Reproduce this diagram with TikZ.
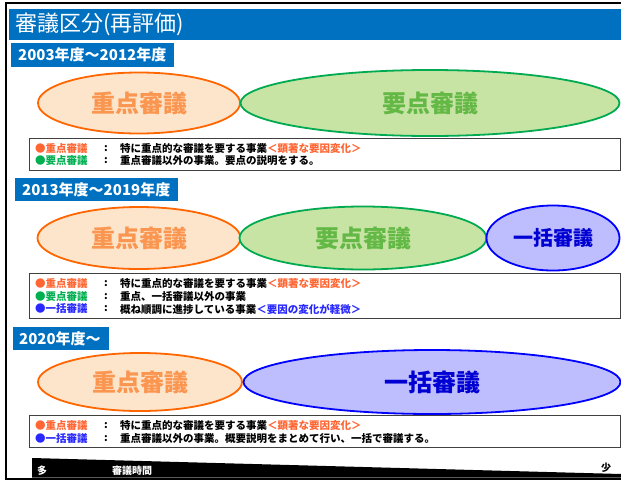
\documentclass[tikz,border=0pt]{standalone}
\usepackage{fontspec}
\newfontfamily\jp{Noto Sans CJK JP}
\usetikzlibrary{shapes.geometric}
\definecolor{hdrblue}{RGB}{0,112,192}
\definecolor{orline}{RGB}{255,102,0}
\definecolor{orfill}{RGB}{253,229,204}
\definecolor{ortxt}{RGB}{250,150,80}
\definecolor{grline}{RGB}{0,170,80}
\definecolor{grfill}{RGB}{200,228,165}
\definecolor{grtxt}{RGB}{100,185,70}
\definecolor{blline}{RGB}{0,0,255}
\definecolor{blfill}{RGB}{190,190,255}
\definecolor{bltxt}{RGB}{0,0,210}
\definecolor{legor}{RGB}{255,102,51}
\definecolor{leggr}{RGB}{0,176,80}
\definecolor{legbl}{RGB}{40,40,255}
\begin{document}
\begin{tikzpicture}[x=1pt,y=-1pt,
  ell/.style={ellipse, line width=1.8pt, inner sep=0pt, font=\jp\bfseries\fontsize{24}{24}\selectfont},
  ellor/.style={ell, draw=orline, fill=orfill, text=ortxt},
  ellgr/.style={ell, draw=grline, fill=grfill, text=grtxt},
  ellbl/.style={ell, draw=blline, fill=blfill, text=bltxt},
  hdrtxt/.style={anchor=west, inner sep=0pt, text=white, font=\jp\bfseries\fontsize{15}{15}\selectfont},
  legbox/.style={draw=black!75, line width=0.9pt, fill=white},
  legtxt/.style={anchor=west, inner sep=0pt, font=\jp\bfseries\fontsize{10.5}{10.5}\selectfont},
  wtxt/.style={anchor=center, inner sep=0pt, font=\jp\bfseries\fontsize{10}{10}\selectfont}
]
\useasboundingbox (0,0) rectangle (621,480);
\fill[white] (0,0) rectangle (621,480);
% outer frame
\draw[line width=1.6pt, black] (6,3) rectangle (640,479);
% title bar
\fill[hdrblue] (9,9) rectangle (640,40);
\node[anchor=west, inner sep=0pt, text=white, font=\jp\fontsize{22}{22}\selectfont] (title) at (15,24.5) {審議区分(再評価)};

% ---------- period 1 ----------
\fill[hdrblue] (11,43) rectangle (174,67);
\node[hdrtxt] (h1) at (18,55) {2003年度～2012年度};
\node[ellor, minimum width=202pt, minimum height=61pt] (a1) at (139,103) {重点審議};
\node[ellgr, minimum width=379pt, minimum height=66pt] (a2) at (430,103) {要点審議};
\draw[legbox] (29,138) rectangle (620,170);
\node[legtxt, text=legor] (l11) at (35,149) {●重点審議};
\node[legtxt] (c11) at (104,149) {:};
\node[legtxt] (d11) at (120,149) {特に重点的な審議を要する事業\textcolor{legor}{＜顕著な要因変化＞}};
\node[legtxt, text=leggr] (l12) at (35,161) {●要点審議};
\node[legtxt] (c12) at (104,161) {:};
\node[legtxt] (d12) at (120,161) {重点審議以外の事業。要点の説明をする。};

% ---------- period 2 ----------
\fill[hdrblue] (15,178) rectangle (178,201);
\node[hdrtxt] (h2) at (22,189.5) {2013年度～2019年度};
\node[ellor, minimum width=203pt, minimum height=62pt] (b1) at (139,238) {重点審議};
\node[ellgr, minimum width=247pt, minimum height=63pt] (b2) at (363,238) {要点審議};
\node[ellbl, minimum width=133pt, minimum height=65pt, font=\jp\bfseries\fontsize{20}{20}\selectfont] (b3) at (553,238) {一括審議};
\draw[legbox] (29,273) rectangle (620,318);
\node[legtxt, text=legor] (l21) at (35,284) {●重点審議};
\node[legtxt] (c21) at (104,284) {:};
\node[legtxt] (d21) at (120,284) {特に重点的な審議を要する事業\textcolor{legor}{＜顕著な要因変化＞}};
\node[legtxt, text=leggr] (l22) at (35,296.5) {●要点審議};
\node[legtxt] (c22) at (104,296.5) {:};
\node[legtxt] (d22) at (120,296.5) {重点、一括審議以外の事業};
\node[legtxt, text=legbl] (l23) at (35,309) {●一括審議};
\node[legtxt] (c23) at (104,309) {:};
\node[legtxt] (d23) at (120,309) {概ね順調に進捗している事業\textcolor{legbl}{＜要因の変化が軽微＞}};

% ---------- period 3 ----------
\fill[hdrblue] (13,327) rectangle (109,350);
\node[hdrtxt] (h3) at (19,338.5) {2020年度～};
\node[ellor, minimum width=204pt, minimum height=58pt] (c1) at (140,382) {重点審議};
\node[ellbl, minimum width=377pt, minimum height=64pt] (c2) at (432,382) {一括審議};
\draw[legbox] (29,415) rectangle (620,447);
\node[legtxt, text=legor] (l31) at (35,426) {●重点審議};
\node[legtxt] (c31) at (104,426) {:};
\node[legtxt] (d31) at (120,426) {特に重点的な審議を要する事業\textcolor{legor}{＜顕著な要因変化＞}};
\node[legtxt, text=legbl] (l32) at (35,438.5) {●一括審議};
\node[legtxt] (c32) at (104,438.5) {:};
\node[legtxt] (d32) at (120,438.5) {重点審議以外の事業。概要説明をまとめて行い、一括で審議する。};

% ---------- bottom wedge ----------
\fill[black] (32,458) -- (621,474) -- (621,477.5) -- (32,477.5) -- cycle;
\node[wtxt, text=white] (many) at (42,471) {多};
\node[wtxt, text=white] (time) at (132,471) {審議時間};
\node[wtxt, text=black] (few) at (606,468) {少};
\end{tikzpicture}
\end{document}
